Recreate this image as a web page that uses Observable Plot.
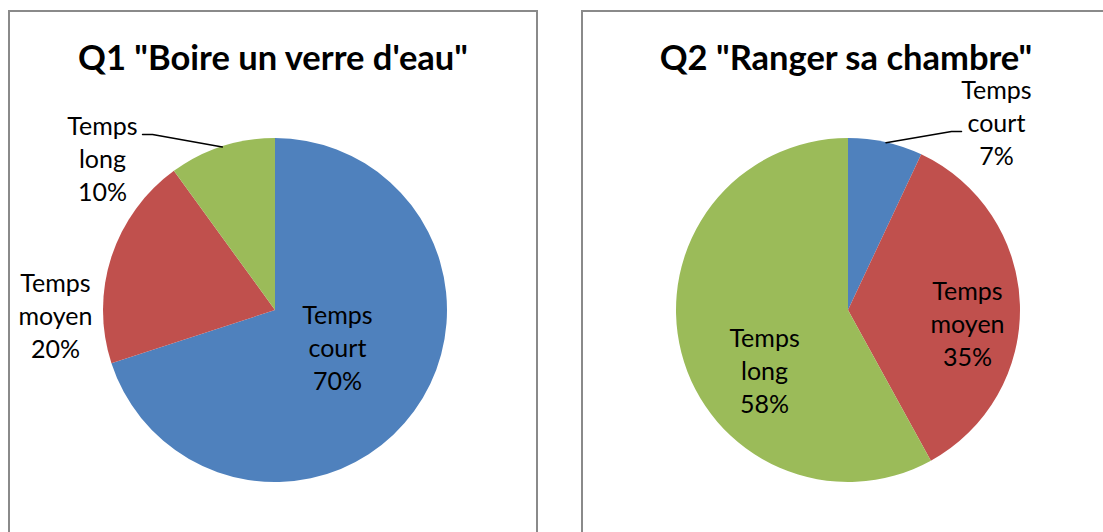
<!DOCTYPE html>
<html><head><meta charset="utf-8">
<script src="https://cdn.jsdelivr.net/npm/d3@7"></script>
<script src="https://cdn.jsdelivr.net/npm/@observablehq/plot@0.6"></script>
<style>
body{margin:0;width:1103px;height:532px;overflow:hidden;background:#fff;font-family:Lato,sans-serif;position:relative;}
.box{position:absolute;top:10px;width:530px;height:600px;border:2px solid #8a8a8a;box-sizing:border-box;background:#fff;}
.title{position:absolute;top:24px;left:0;width:100%;text-align:center;font-weight:bold;font-size:34.5px;line-height:1.2;color:#000;white-space:nowrap;}
.chart{position:absolute;left:0;top:0;}
</style>
</head><body>
<div id="root"></div>
<script>
// ---- data ----
const categories = ["Temps court", "Temps moyen", "Temps long"];
const q1Values = [70, 20, 10];
const q2Values = [7, 35, 58];
const titles = ["Q1 \"Boire un verre d'eau\"", "Q2 \"Ranger sa chambre\""];
const colors = ["#4F81BD", "#C0504D", "#9BBB59"];

// ---- layout (pie units, radius = 1) ----
const labelPos = [
  [[0.36, -0.227], [-1.279, -0.04], [-1.006, 0.872]],
  [[0.86, 1.081], [0.692, -0.087], [-0.488, -0.36]]
];
// leader lines: [slice index, elbow point, end point]
const leaders = [
  [{i: 2, elbow: [-0.715, 1.023], end: [-0.773, 1.023]}],
  [{i: 0, elbow: [0.599, 1.041], end: [0.657, 1.041]}]
];
const boxLeft = [8, 581];

const root = document.getElementById("root");
[q1Values, q2Values].forEach((vals, k) => {
  const rows = categories.map((c, i) => ({cat: c, value: vals[i], color: colors[i]}));
  const arcs = d3.pie().sort(null).value(d => d.value)(rows);
  const labels = rows.map((r, i) => ({
    x: labelPos[k][i][0], y: labelPos[k][i][1],
    text: r.cat.split(" ").join("\n") + "\n" + r.value + "%"
  }));
  const lines = [];
  leaders[k].forEach((L, j) => {
    const a = arcs[L.i];
    const mid = (a.startAngle + a.endAngle) / 2;
    lines.push({id: j, x: Math.sin(mid), y: Math.cos(mid)});
    lines.push({id: j, x: L.elbow[0], y: L.elbow[1]});
    lines.push({id: j, x: L.end[0], y: L.end[1]});
  });

  const slices = (index, scales) => {
    const cx = scales.x(0), cy = scales.y(0);
    const r = scales.x(1) - scales.x(0);
    const g = d3.create("svg:g").attr("transform", `translate(${cx},${cy})`);
    const arc = d3.arc().innerRadius(0).outerRadius(r);
    g.selectAll("path").data(arcs).join("path")
      .attr("d", arc)
      .attr("fill", d => d.data.color);
    return g.node();
  };

  const cxp = 265, cyp = 298, R = 172;
  const plot = Plot.plot({
    width: 526, height: 520,
    margin: 0,
    x: {domain: [-1, 1], range: [cxp - R, cxp + R], axis: null},
    y: {domain: [-1, 1], range: [cyp + R, cyp - R], axis: null},
    style: {background: "transparent", fontFamily: "Lato, sans-serif"},
    marks: [
      slices,
      Plot.line(lines, {x: "x", y: "y", z: "id", stroke: "#000", strokeWidth: 1.5}),
      Plot.text(labels, {x: "x", y: "y", text: "text", dy: -3, fontSize: 25, lineHeight: 1.32, fill: "#000"})
    ]
  });
  plot.classList.add("chart");

  const box = document.createElement("div");
  box.className = "box";
  box.style.left = boxLeft[k] + "px";
  box.appendChild(plot);
  const t = document.createElement("div");
  t.className = "title";
  t.textContent = titles[k];
  box.appendChild(t);
  root.appendChild(box);
});
</script>
</body></html>
